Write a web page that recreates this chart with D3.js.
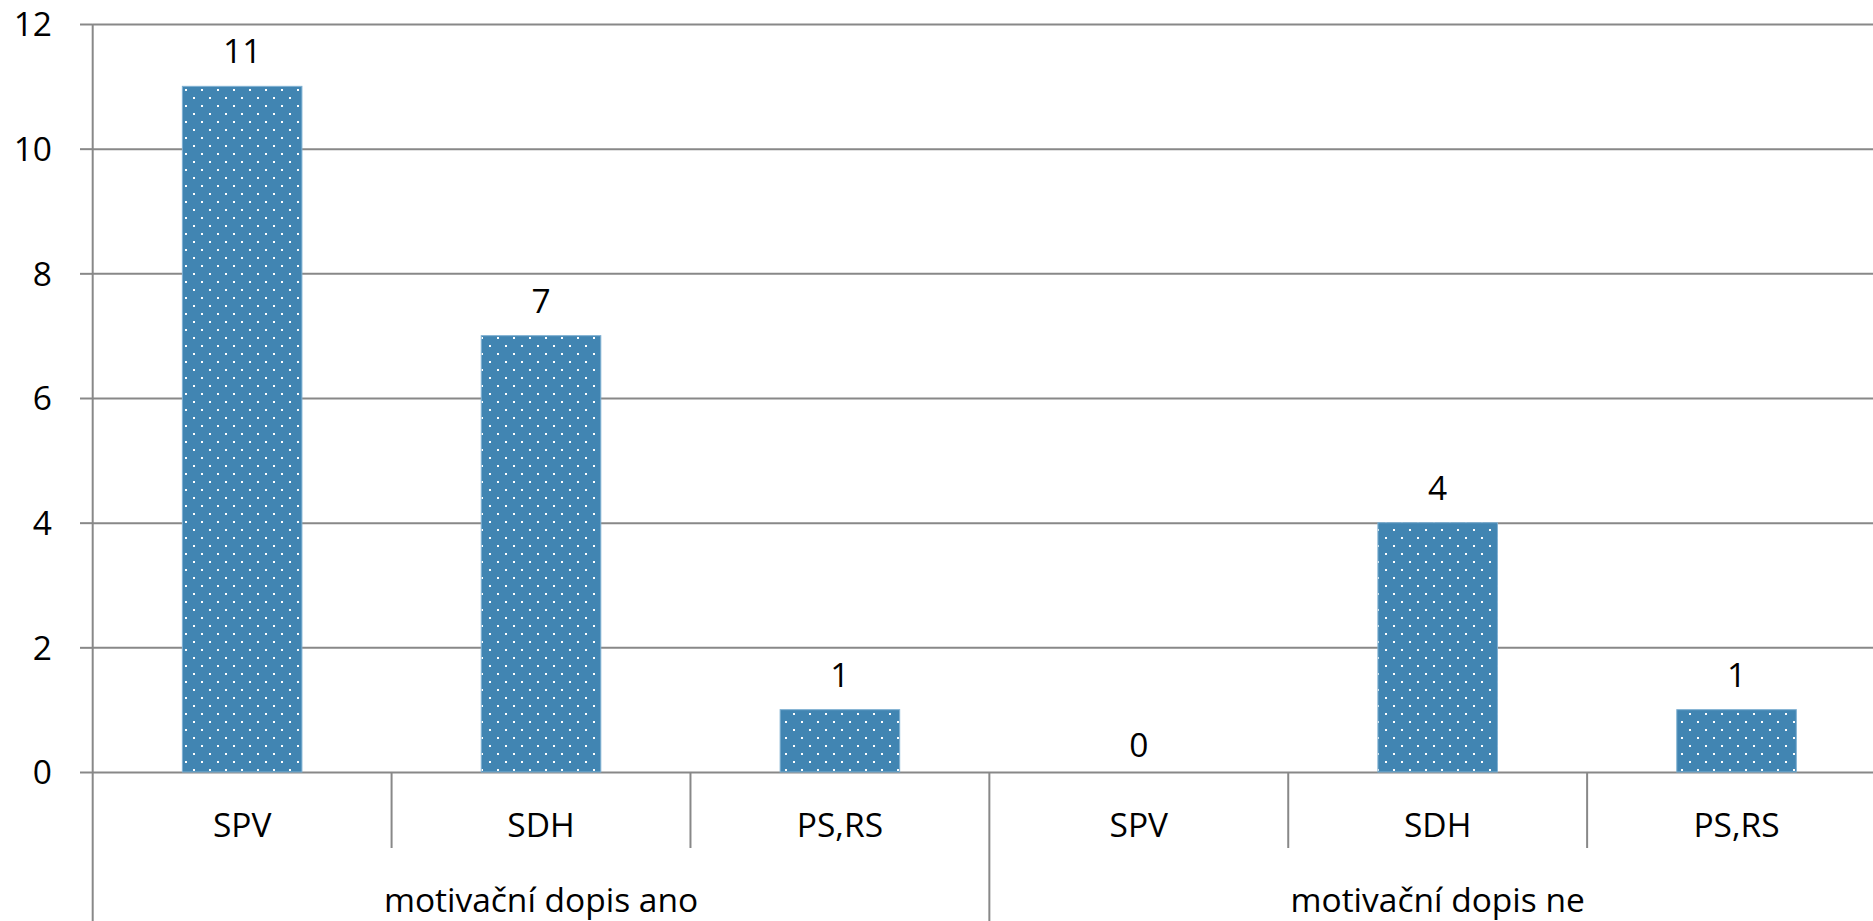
<!DOCTYPE html>
<html>
<head>
<meta charset="utf-8">
<script src="https://cdn.jsdelivr.net/npm/d3@7"></script>
<style>
  html, body { margin: 0; padding: 0; background: #fff; overflow: hidden; }
  text { font-family: "Open Sans", "Noto Sans", sans-serif; fill: #000; }
</style>
</head>
<body>
<div id="container"></div>
<script>
const groups = ['motivační dopis ano', 'motivační dopis ne'];
const categories = ['SPV', 'SDH', 'PS,RS'];
const valuesAno = [11, 7, 1];
const valuesNe = [0, 4, 1];
const yTicks = [0, 2, 4, 6, 8, 10, 12];

let rows = [];
groups.forEach(function (g, gi) {
    let vals = gi == 0 ? valuesAno : valuesNe;
    categories.forEach(function (c, ci) {
        rows.push({ group: g, cat: c, value: vals[ci], key: gi + '-' + ci });
    });
});

let width = 1873, height = 921;
let axisX = 92.7, plotRight = 1886;
let zeroY = 772, topY = 24;
let fs = '33.5px';

let viz = d3.select('#container')
    .append('svg')
    .attr('width', width)
    .attr('height', height)
    ;

let defs = viz.append('defs');
let pat = defs.append('pattern')
    .attr('id', 'dots')
    .attr('patternUnits', 'userSpaceOnUse')
    .attr('width', 16)
    .attr('height', 16);
pat.append('rect').attr('width', 16).attr('height', 16).attr('fill', '#4185b2');
pat.append('rect').attr('x', 1).attr('y', 1).attr('width', 2).attr('height', 2).attr('fill', '#fff');
pat.append('rect').attr('x', 9).attr('y', 9).attr('width', 2).attr('height', 2).attr('fill', '#fff');

let x = d3.scaleBand()
    .domain(rows.map(d => d.key))
    .range([axisX, plotRight])
    .padding(0);

let y = d3.scaleLinear()
    .domain([0, 12])
    .range([zeroY, topY]);

// gridlines
let grid = viz.append('g')
    .attr('transform', 'translate(' + axisX + ',0)')
    .call(d3.axisLeft(y).tickValues(yTicks).tickSize(-(plotRight - axisX)).tickFormat(''));
grid.select('.domain').remove();
grid.selectAll('line').attr('stroke', '#888').attr('stroke-width', 2);

// y axis with ticks + labels
let yAxis = viz.append('g')
    .attr('transform', 'translate(' + axisX + ',0)')
    .call(d3.axisLeft(y).tickValues(yTicks).tickSize(12.7).tickPadding(28));
yAxis.select('.domain').remove();
yAxis.selectAll('line').attr('stroke', '#888').attr('stroke-width', 2);
yAxis.selectAll('text').style('font-size', fs).attr('dy', '0.35em');

viz.append('line')
    .attr('x1', axisX).attr('x2', axisX)
    .attr('y1', topY).attr('y2', height)
    .attr('stroke', '#888').attr('stroke-width', 2);

// category separators
let bounds = d3.range(1, rows.length + 1);
viz.selectAll('.sep').data(bounds).enter()
    .append('line')
    .attr('class', 'sep')
    .attr('x1', i => axisX + i * x.step())
    .attr('x2', i => axisX + i * x.step())
    .attr('y1', zeroY)
    .attr('y2', i => i % categories.length == 0 ? height : 848)
    .attr('stroke', '#888').attr('stroke-width', 2);

// bars
let bw = x.bandwidth() * 0.4;
viz.selectAll('.bar').data(rows).enter()
    .append('rect')
    .attr('class', 'bar')
    .attr('x', d => x(d.key) + (x.bandwidth() - bw) / 2)
    .attr('y', d => y(d.value))
    .attr('width', bw)
    .attr('height', d => zeroY - y(d.value))
    .attr('fill', 'url(#dots)')
    .attr('stroke', '#7fb0d2')
    .attr('stroke-width', d => d.value > 0 ? 1 : 0);

// value labels
viz.selectAll('.val').data(rows).enter()
    .append('text')
    .attr('class', 'val')
    .attr('x', d => x(d.key) + x.bandwidth() / 2)
    .attr('y', d => y(d.value) - (d.value > 0 ? 23 : 15))
    .attr('text-anchor', 'middle')
    .style('font-size', fs)
    .text(d => d.value);

// category labels
viz.selectAll('.cat').data(rows).enter()
    .append('text')
    .attr('class', 'cat')
    .attr('x', d => x(d.key) + x.bandwidth() / 2)
    .attr('y', 837)
    .attr('text-anchor', 'middle')
    .style('font-size', fs)
    .text(d => d.cat);

// group labels
viz.selectAll('.grp').data(groups).enter()
    .append('text')
    .attr('class', 'grp')
    .attr('x', (d, i) => axisX + (i * categories.length + categories.length / 2) * x.step())
    .attr('y', 912)
    .attr('text-anchor', 'middle')
    .style('font-size', fs)
    .text(d => d);
</script>
</body>
</html>
